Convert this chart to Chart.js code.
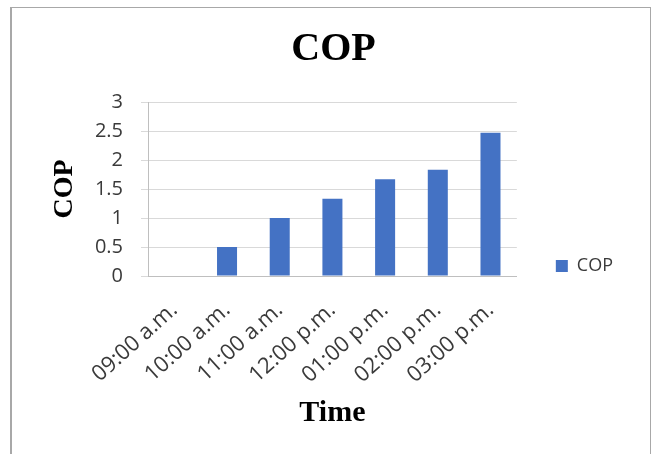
<!DOCTYPE html>
<html>
<head>
<meta charset="utf-8">
<script src="https://cdn.jsdelivr.net/npm/chart.js@4.4.1/dist/chart.umd.min.js"></script>
<style>
  html, body { margin: 0; padding: 0; background: #fff; }
  #wrap { position: relative; width: 652px; height: 454px; overflow: hidden; }
  #frame { position: absolute; left: 10px; top: 7px; width: 638px; height: 460px;
           border: 1px solid #a8a8a8; border-left: 2px solid #a8a8a8; pointer-events: none; }
  canvas { position: absolute; left: 0; top: 0; }
</style>
</head>
<body>
<div id="wrap">
  <canvas id="myChart" width="652" height="454"></canvas>
  <div id="frame"></div>
</div>
<script>
// values
const times = ['09:00 a.m.', '10:00 a.m.', '11:00 a.m.', '12:00 p.m.', '01:00 p.m.', '02:00 p.m.', '03:00 p.m.']
const copValues = [0, 0.5, 1.0, 1.33, 1.67, 1.83, 2.47]
const seriesName = 'COP'
const chartTitle = 'COP'
const xTitle = 'Time'
const yTitle = 'COP'

const tickColor = '#3a3a3a'
const sans = "'Open Sans', 'Noto Sans', sans-serif"
const serif = "'Liberation Serif', 'DejaVu Serif', serif"

const ctx = document.getElementById('myChart')

new Chart(ctx, {
  type: 'bar',
  data: {
    labels: times,
    datasets: [{
      label: seriesName,
      data: copValues,
      backgroundColor: '#4472C4',
      borderWidth: 0,
      barPercentage: 0.38,
      categoryPercentage: 1
    }]
  },
  options: {
    responsive: false,
    animation: false,
    events: [],
    layout: {
      padding: { left: 44, right: 29, top: 0, bottom: 19 }
    },
    plugins: {
      title: {
        display: true,
        text: chartTitle,
        color: '#000',
        font: { family: serif, size: 40, weight: 'bold' },
        padding: { top: 26, bottom: 28 }
      },
      legend: {
        position: 'right',
        fullSize: false,
        align: 'start',
        // blank legend title only pushes the single item down to where it sits in the picture
        title: {
          display: true,
          text: ' ',
          font: { size: 10 },
          padding: { top: 104, bottom: 0 }
        },
        labels: {
          boxWidth: 12,
          boxHeight: 12,
          padding: 39,
          color: tickColor,
          font: { family: sans, size: 18 }
        }
      },
      tooltip: { enabled: false }
    },
    scales: {
      x: {
        grid: { display: false, drawTicks: false },
        border: { color: '#bfbfbf', width: 1 },
        ticks: {
          color: tickColor,
          font: { family: sans, size: 22 },
          minRotation: 42,
          maxRotation: 42,
          padding: 21,
          autoSkip: false
        },
        title: {
          display: true,
          text: xTitle,
          color: '#000',
          font: { family: serif, size: 30, weight: 'bold' },
          padding: { top: 4, bottom: 4 }
        },
        afterFit: function(scale) { scale.height = 159 }
      },
      y: {
        min: 0,
        max: 3,
        ticks: {
          stepSize: 0.5,
          color: tickColor,
          font: { family: sans, size: 20 },
          padding: 18,
          callback: value => String(value)
        },
        grid: { color: '#d9d9d9', lineWidth: 1, tickLength: 7 },
        border: { color: '#bfbfbf', width: 1 },
        title: {
          display: true,
          text: yTitle,
          color: '#000',
          font: { family: serif, size: 28, weight: 'bold' },
          padding: { top: 4, bottom: 4 }
        },
        afterFit: function(scale) { scale.width = 104 }
      }
    }
  }
})
</script>
</body>
</html>
